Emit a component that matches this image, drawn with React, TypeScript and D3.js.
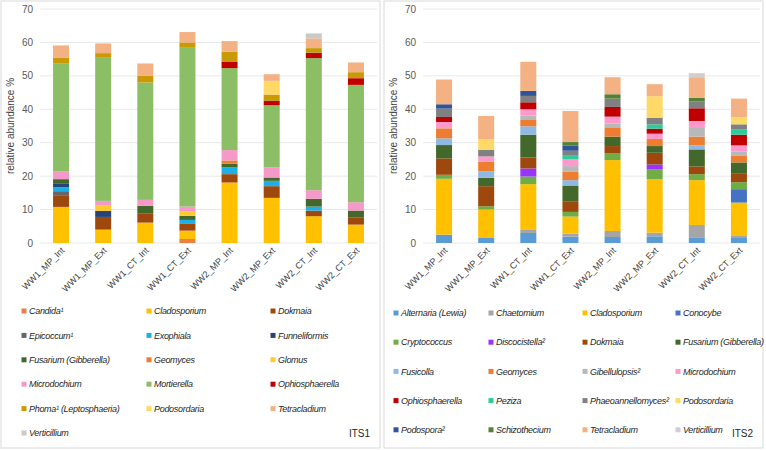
import React from "react";
import * as d3 from "d3";

const categories = ["WW1_MP_Int", "WW1_MP_Ext", "WW1_CT_Int", "WW1_CT_Ext", "WW2_MP_Int", "WW2_MP_Ext", "WW2_CT_Int", "WW2_CT_Ext"];
const yTicks = [0, 10, 20, 30, 40, 50, 60, 70];

// ITS1 series (segment values per category)
const its1Names = ["Candida¹", "Cladosporium", "Dokmaia", "Epicoccum¹", "Exophiala", "Funneliformis", "Fusarium (Gibberella)", "Geomyces", "Glomus", "Microdochium", "Mortierella", "Ophiosphaerella", "Phoma¹ (Leptosphaeria)", "Podosordaria", "Tetracladium", "Verticillium"];
const its1Colors = ["#E9803F", "#FFC000", "#9E480E", "#666666", "#1CB0E8", "#264478", "#43682B", "#ED7D31", "#FFCA2E", "#F59AC8", "#8CBF65", "#C00000", "#C99A06", "#FFD966", "#F4B183", "#C9C9C9"];
const its1Candida = [0, 0, 0, 1.2, 0, 0, 0, 0];
const its1Cladosporium = [10.8, 4.0, 6.1, 2.5, 18.1, 13.5, 8.0, 5.5];
const its1Dokmaia = [3.5, 3.8, 2.8, 2.0, 2.5, 3.5, 1.7, 2.2];
const its1Epicoccum = [1.2, 0, 0, 0, 0, 0, 0, 0];
const its1Exophiala = [1.2, 0, 0, 1.2, 2.0, 1.6, 1.2, 0];
const its1Funneliformis = [1.0, 1.8, 0, 0, 0, 0, 0, 0];
const its1Fusarium = [1.4, 0, 2.2, 1.2, 1.1, 1.0, 2.3, 2.0];
const its1Geomyces = [0, 0, 0, 0, 1.0, 0, 0, 0];
const its1Glomus = [0, 1.6, 0, 1.3, 0, 0, 0, 0];
const its1Microdochium = [2.4, 1.4, 1.8, 1.5, 3.1, 3.0, 2.6, 2.5];
const its1Mortierella = [32.3, 42.8, 35.1, 47.5, 24.5, 18.6, 39.5, 35.1];
const its1Ophiosphaerella = [0, 0, 0, 0, 2.0, 1.3, 1.6, 2.0];
const its1Phoma = [1.7, 1.4, 2.0, 1.6, 2.9, 1.9, 1.4, 1.8];
const its1Podosordaria = [0, 0, 0, 0, 0, 4.1, 0, 0];
const its1Tetracladium = [3.6, 2.9, 3.7, 3.1, 3.2, 2.0, 2.9, 2.9];
const its1Verticillium = [0, 0, 0, 0, 0, 0, 1.5, 0];
const its1Series = [its1Candida, its1Cladosporium, its1Dokmaia, its1Epicoccum, its1Exophiala, its1Funneliformis, its1Fusarium, its1Geomyces, its1Glomus, its1Microdochium, its1Mortierella, its1Ophiosphaerella, its1Phoma, its1Podosordaria, its1Tetracladium, its1Verticillium];

// ITS2 series
const its2Names = ["Alternaria (Lewia)", "Chaetomium", "Cladosporium", "Conocybe", "Cryptococcus", "Discocistella²", "Dokmaia", "Fusarium (Gibberella)", "Fusicolla", "Geomyces", "Gibellulopsis²", "Microdochium", "Ophiosphaerella", "Peziza", "Phaeoannellomyces²", "Podosordaria", "Podospora²", "Schizothecium", "Tetracladium", "Verticillium"];
const its2Colors = ["#5B9BD5", "#A5A5A5", "#FFC000", "#4472C4", "#70AD47", "#9933FF", "#9E480E", "#43682B", "#8FB8E3", "#ED7D31", "#B8B8B8", "#FF99CC", "#C00000", "#2ECC9A", "#808080", "#FFD966", "#2F5597", "#548235", "#F4B183", "#D0CECE"];
const its2Alternaria = [2.5, 1.5, 3.0, 1.9, 1.8, 2.0, 1.7, 1.5];
const its2Chaetomium = [0, 0, 0.9, 0.9, 1.8, 1.1, 3.7, 0.8];
const its2Cladosporium = [16.7, 8.5, 13.7, 5.1, 21.2, 16.0, 13.4, 9.8];
const its2Conocybe = [0, 0, 0, 0, 0, 0, 0, 4.0];
const its2Cryptococcus = [1.2, 1.0, 2.3, 1.4, 2.1, 3.0, 1.8, 2.1];
const its2Discocistella = [0, 0, 2.4, 0, 0, 1.4, 0, 0];
const its2Dokmaia = [4.9, 6.0, 3.3, 3.2, 2.1, 3.5, 2.3, 2.5];
const its2Fusarium = [4.0, 2.5, 6.8, 4.7, 2.8, 2.0, 5.1, 3.4];
const its2Fusicolla = [2.0, 1.9, 2.5, 1.6, 0, 0, 1.2, 0];
const its2Geomyces = [3.0, 2.9, 1.9, 2.6, 2.8, 2.1, 2.6, 2.1];
const its2Gibellulopsis = [0, 0, 1.3, 1.6, 1.1, 0, 2.6, 1.2];
const its2Microdochium = [1.9, 1.6, 1.9, 2.0, 2.1, 1.6, 2.1, 1.8];
const its2Ophiosphaerella = [1.5, 0, 2.1, 0, 2.9, 1.5, 3.8, 3.2];
const its2Peziza = [0, 0, 0, 1.1, 0, 1.3, 0, 1.5];
const its2Phaeoannellomyces = [2.5, 2.0, 1.9, 1.5, 2.5, 2.0, 2.0, 1.6];
const its2Podosordaria = [0, 3.2, 0, 0, 0, 6.4, 0, 2.1];
const its2Podospora = [1.3, 0, 1.5, 1.6, 0, 0, 0, 0];
const its2Schizothecium = [0, 0, 0, 1.0, 1.3, 0, 1.1, 0];
const its2Tetracladium = [7.4, 6.9, 8.7, 9.3, 5.1, 3.6, 6.2, 5.6];
const its2Verticillium = [0, 0, 0, 0, 0, 0, 1.2, 0];
const its2Series = [its2Alternaria, its2Chaetomium, its2Cladosporium, its2Conocybe, its2Cryptococcus, its2Discocistella, its2Dokmaia, its2Fusarium, its2Fusicolla, its2Geomyces, its2Gibellulopsis, its2Microdochium, its2Ophiosphaerella, its2Peziza, its2Phaeoannellomyces, its2Podosordaria, its2Podospora, its2Schizothecium, its2Tetracladium, its2Verticillium];

const FONT = "Liberation Sans, Arial, sans-serif";

type PanelProps = {
  ox: number;
  names: string[];
  colors: string[];
  series: number[][];
  tag: string;
  legendCols: number;
  colX: number[];
  rowY0: number;
  rowStep: number;
};

function Panel({ ox, names, colors, series, tag, legendCols, colX, rowY0, rowStep }: PanelProps) {
  const plotL = 40, plotR = 377, plotT = 9, plotB = 243;
  const x = d3.scaleBand<string>().domain(categories).range([plotL, plotR]).paddingInner(0.62).paddingOuter(0.31);
  const y = d3.scaleLinear().domain([0, 70]).range([plotB, plotT]);
  const table = categories.map((c, i) => {
    const row: Record<string, number | string> = { cat: c };
    names.forEach((n, k) => (row[n] = series[k][i]));
    return row;
  });
  const stacked = d3.stack<any>().keys(names)(table);
  return (
    <g transform={`translate(${ox},0)`}>
      <rect x={1} y={1} width={379} height={447} fill="#fff" stroke="#d9d9d9" strokeWidth={1} />
      {yTicks.map((t) => (
        <g key={t}>
          <line x1={plotL} x2={plotR} y1={y(t)} y2={y(t)} stroke="#e8e8e8" strokeWidth={1} />
          <text x={33} y={y(t)} dy="0.35em" textAnchor="end" fontSize={10} fill="#595959" fontFamily={FONT}>{t}</text>
        </g>
      ))}
      <text transform={`translate(14,${(plotT + plotB) / 2}) rotate(-90)`} textAnchor="middle" fontSize={10} fill="#404040" fontFamily={FONT}>relative abundance %</text>
      {stacked.map((s, k) => (
        <g key={names[k]} fill={colors[k]}>
          {s.map((d, i) => (d[1] - d[0] > 0 ? (
            <rect key={i} x={x(categories[i])} width={x.bandwidth()} y={y(d[1])} height={y(d[0]) - y(d[1])} />
          ) : null))}
        </g>
      ))}
      {categories.map((c) => (
        <text key={c} transform={`translate(${(x(c) as number) + x.bandwidth() / 2 + 4},${251}) rotate(-45)`} textAnchor="end" fontSize={9} fill="#404040" fontFamily={FONT}>{c}</text>
      ))}
      {names.map((n, k) => {
        const col = k % legendCols;
        const row = Math.floor(k / legendCols);
        const cy = rowY0 + row * rowStep;
        return (
          <g key={n}>
            <rect x={colX[col] - 2.5} y={cy - 2.5} width={5} height={5} fill={colors[k]} />
            <text x={colX[col] + 5} y={cy} dy="0.35em" fontSize={9} fontStyle="italic" letterSpacing={-0.3} fill="#262626" fontFamily={FONT}>{n}</text>
          </g>
        );
      })}
      <text x={370} y={433} dy="0.35em" textAnchor="end" fontSize={10} fill="#262626" fontFamily={FONT}>{tag}</text>
    </g>
  );
}

export default function App() {
  return (
    <svg width={766} height={450} style={{ position: "absolute", left: 0, top: 0, background: "#fff" }}>
      <Panel ox={0} names={its1Names} colors={its1Colors} series={its1Series} tag="ITS1" legendCols={3} colX={[24, 149, 273]} rowY0={311} rowStep={24.4} />
      <Panel ox={383} names={its2Names} colors={its2Colors} series={its2Series} tag="ITS2" legendCols={4} colX={[13, 108, 202, 295]} rowY0={313} rowStep={29.2} />
    </svg>
  );
}
